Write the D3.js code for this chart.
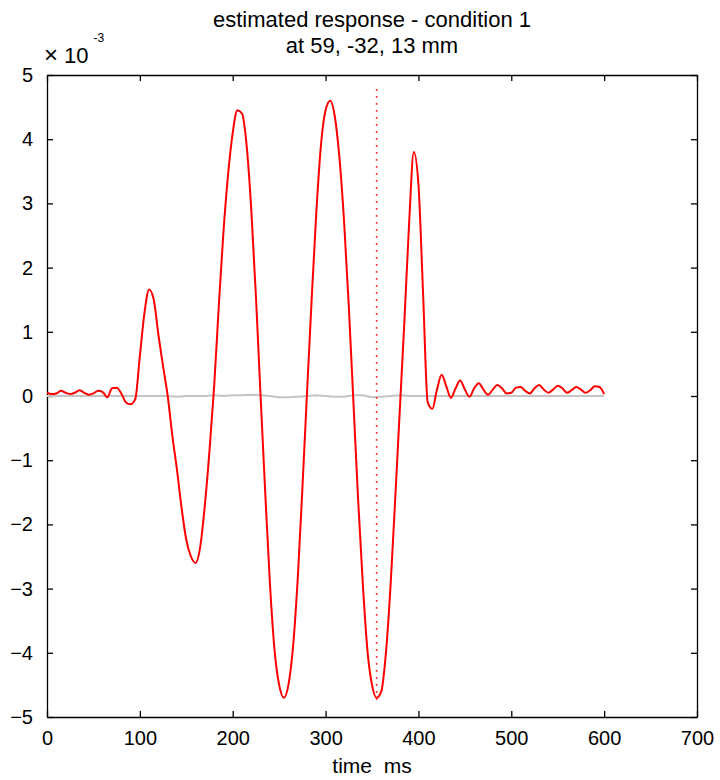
<!DOCTYPE html>
<html><head><meta charset="utf-8">
<script src="https://cdn.jsdelivr.net/npm/d3@7"></script>
<style>body{margin:0;background:#fff}svg{display:block}text{font-family:"Liberation Sans",Arial,sans-serif;fill:#000}</style>
</head><body><svg id="c" width="720" height="780"></svg>
<script>
// time axis (ms)
const xTicks = [0,100,200,300,400,500,600,700];
const yTicks = [-5,-4,-3,-2,-1,0,1,2,3,4,5];
const titleLines = ["estimated response - condition 1","at 59, -32, 13 mm"];
const xLabel = "time  ms";
// red estimated response (x10^-3), sampled every 5 ms from 0 to 600
const respTimes = d3.range(0, 601, 5);
const respValues = [
 0.05,0.03,0.04,0.08,0.05,0.03,0.05,0.09,0.05,0.02,
 0.04,0.08,0.06,-0.02,0.12,0.13,0.04,-0.10,-0.13,-0.05,
 0.62,1.30,1.66,1.50,0.95,0.46,0.00,-0.62,-1.15,-1.75,
 -2.24,-2.50,-2.60,-2.35,-1.70,-0.85,0.15,1.40,2.55,3.45,
 4.10,4.45,4.40,3.90,2.90,1.55,0.00,-1.50,-2.90,-3.95,
 -4.50,-4.70,-4.50,-3.90,-2.85,-1.45,0.05,1.50,2.85,3.90,
 4.45,4.60,4.35,3.70,2.70,1.40,-0.10,-1.60,-2.90,-3.95,
 -4.50,-4.70,-4.60,-4.00,-2.95,-1.60,-0.20,1.20,2.70,3.80,
 3.30,1.60,-0.10,-0.20,0.10,0.33,0.15,-0.03,0.12,0.24,
 0.10,-0.01,0.12,0.20,0.10,0.02,0.10,0.17,0.12,0.04,
 0.05,0.13,0.14,0.08,0.04,0.12,0.17,0.10,0.05,0.10,
 0.16,0.12,0.05,0.09,0.14,0.10,0.05,0.09,0.15,0.14,
 0.03];
// gray line (x10^-3), every 10 ms
const grayTimes = d3.range(0, 601, 10);
const grayValues = [
 0,0,0,0,0,0,0,0,0,0,
 0,0,0,0,-0.01,0,0,0,0.01,0,
 0.01,0.01,0.02,0.01,0,-0.02,-0.02,-0.01,0,0.01,
 0,-0.01,-0.01,0.01,0.01,-0.02,-0.01,0,0.01,0,
 0,0,0,0,0,0,0,0,0,0,
 0,0,0,0,0,0,0,0,0,0,0];
// dotted marker line
const markerTime = 355;
const markerRange = [-4.73, 4.78];

const svg = d3.select("#c");
const L=47,R=697,T=75,B=717;
const x = d3.scaleLinear().domain([0,700]).range([L,R]);
const y = d3.scaleLinear().domain([-5,5]).range([B,T]);

const g = svg.append("g");
const tk=6;
g.append("g").attr("transform",`translate(0,${B})`)
 .call(d3.axisBottom(x).tickValues(xTicks).tickSizeInner(-tk).tickSizeOuter(0).tickPadding(14).tickFormat(d3.format("d")));
g.append("g").attr("transform",`translate(0,${T})`)
 .call(d3.axisTop(x).tickValues(xTicks).tickSizeInner(-tk).tickSizeOuter(0).tickFormat(""));
g.append("g").attr("transform",`translate(${L},0)`)
 .call(d3.axisLeft(y).tickValues(yTicks).tickSizeInner(-tk).tickSizeOuter(0).tickPadding(14).tickFormat(d3.format("d")));
g.append("g").attr("transform",`translate(${R},0)`)
 .call(d3.axisRight(y).tickValues(yTicks).tickSizeInner(-tk).tickSizeOuter(0).tickFormat(""));
g.selectAll(".domain").attr("stroke","#000").attr("stroke-width",1.3);
g.selectAll(".tick line").attr("stroke","#000").attr("stroke-width",1.3);
g.selectAll(".tick text").attr("font-size",20).attr("font-family","Liberation Sans, Arial, sans-serif").attr("fill","#000");

const gl = d3.line().x((d,i)=>x(grayTimes[i])).y(d=>y(d));
svg.append("path").datum(grayValues).attr("d",gl).attr("fill","none").attr("stroke","#c4c4c4").attr("stroke-width",2);
const rl = d3.line().x((d,i)=>x(respTimes[i])).y(d=>y(d)).curve(d3.curveMonotoneX);
svg.append("path").datum(respValues).attr("d",rl).attr("fill","none").attr("stroke","#ff0000").attr("stroke-width",2).attr("stroke-linejoin","round");
svg.append("line").attr("x1",x(markerTime)).attr("x2",x(markerTime))
 .attr("y1",y(markerRange[1])).attr("y2",y(markerRange[0]))
 .attr("stroke","#ff2020").attr("stroke-width",1.6).attr("stroke-dasharray","1.6,5.4");

svg.append("text").attr("x",(L+R)/2).attr("y",27).attr("text-anchor","middle").attr("font-size",22).text(titleLines[0]);
svg.append("text").attr("x",(L+R)/2).attr("y",53).attr("text-anchor","middle").attr("font-size",22).text(titleLines[1]);
svg.append("text").attr("x",(L+R)/2).attr("y",773).attr("text-anchor","middle").attr("font-size",21).attr("xml:space","preserve").text(xLabel);
const ex = svg.append("text").attr("x",44).attr("y",63).attr("font-size",22).attr("xml:space","preserve");
ex.append("tspan").attr("font-size",24).text("\u00d7");
ex.append("tspan").attr("dx",6).text("10");
ex.append("tspan").attr("dy",-21).attr("dx",5).attr("font-size",12).text("-3");
</script></body></html>
